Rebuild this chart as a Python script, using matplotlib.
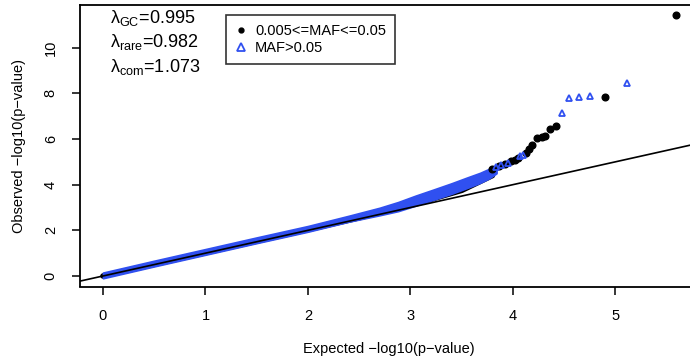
import matplotlib
matplotlib.use("Agg")
import matplotlib.pyplot as plt
from matplotlib.lines import Line2D

plt.rcParams['font.family'] = ['Liberation Sans', 'DejaVu Sans']
plt.rcParams['mathtext.fontset'] = 'custom'
plt.rcParams['mathtext.rm'] = 'Liberation Sans'
plt.rcParams['mathtext.it'] = 'Liberation Sans:italic'

# Dense bulk of the QQ curve: common variants (MAF>0.05), band edges
com_band_x = [0.0, 0.5, 1.0, 1.5, 2.0, 2.4, 2.7, 2.88, 3.05, 3.22, 3.4, 3.55, 3.68, 3.77, 3.84]
com_band_hi = [0.15, 0.67, 1.18, 1.69, 2.19, 2.64, 2.99, 3.24, 3.52, 3.78, 4.06, 4.31, 4.52, 4.70, 4.86]
com_band_lo = [-0.10, 0.42, 0.93, 1.44, 1.94, 2.38, 2.66, 2.84, 3.08, 3.33, 3.60, 3.85, 4.08, 4.28, 4.50]
# Dense bulk: rare variants (0.005<=MAF<=0.05)
rare_band_x = [0.0, 1.0, 2.0, 2.5, 3.0, 3.5, 3.8]
rare_band_y = [0.0, 1.02, 2.03, 2.55, 3.1, 3.75, 4.4]

# Individual tail points
com_tail_x = [3.83, 3.88, 3.95, 4.07, 4.10, 4.48, 4.55, 4.64, 4.75, 5.11]
com_tail_y = [4.78, 4.86, 4.94, 5.25, 5.32, 7.13, 7.79, 7.85, 7.88, 8.45]
rare_tail_x = [3.80, 3.86, 3.92, 3.98, 4.02, 4.05, 4.13, 4.16, 4.19, 4.23, 4.28, 4.31, 4.36, 4.42, 4.90, 5.59]
rare_tail_y = [4.68, 4.80, 4.92, 5.02, 5.10, 5.18, 5.38, 5.57, 5.75, 6.04, 6.10, 6.14, 6.43, 6.55, 7.86, 11.42]

lambda_labels = [r'λ$_{\mathrm{GC}}$=0.995', r'λ$_{\mathrm{rare}}$=0.982', r'λ$_{\mathrm{com}}$=1.073']
legend_labels = ['0.005<=MAF<=0.05', 'MAF>0.05']
xticks = [0, 1, 2, 3, 4, 5]
yticks = [0, 2, 4, 6, 8, 10]

BLUE = '#3050f0'

fig = plt.figure(figsize=(6.9, 3.6), dpi=100)
ax = fig.add_axes([80/690, 1-286.5/360, 618.5/690, (286.5-4.7)/360])
ax.set_xlim(-0.224, 5.81)
ax.set_ylim(-0.46, 11.88)

ax.plot(rare_band_x, rare_band_y, color='black', lw=4.0, solid_capstyle='round', zorder=2)
ax.fill_between(com_band_x, com_band_lo, com_band_hi, color=BLUE, lw=1.2, edgecolor=BLUE, zorder=3)
ax.plot(rare_tail_x, rare_tail_y, linestyle='none', marker='o', markersize=4.8,
        color='black', zorder=3.5)
ax.plot(com_tail_x, com_tail_y, linestyle='none', marker='^', markersize=5, mfc='none',
        mec=BLUE, mew=1.3, zorder=4)
ax.axline((0, 0), slope=1, color='black', lw=1.2, zorder=6)

ax.set_xticks(xticks)
ax.set_yticks(yticks)
ax.set_yticklabels([str(t) for t in yticks], rotation=90, va='center')
ax.tick_params(direction='out', length=6, width=1.1, labelsize=10.5)
ax.tick_params(axis='x', pad=10)
ax.tick_params(axis='y', pad=10)
for s in ax.spines.values():
    s.set_linewidth(1.3)

ax.set_xlabel('Expected \u2212log10(p\u2212value)', fontsize=10.5, labelpad=14)
ax.set_ylabel('Observed \u2212log10(p\u2212value)', fontsize=10.5, labelpad=13)

for i, t in enumerate(lambda_labels):
    fig.text(110/690, 1-(18+24.5*i)/360, t, fontsize=13, va='center', ha='left')

handles = [Line2D([], [], linestyle='none', marker='o', color='black', markersize=3.5),
           Line2D([], [], linestyle='none', marker='^', markersize=5.5, mfc='none', mec=BLUE, mew=1.3)]
leg = ax.legend(handles, legend_labels, loc='upper left', bbox_to_anchor=(226/690, 1-15/360),
                bbox_transform=fig.transFigure, fontsize=10.5, frameon=True, fancybox=False,
                edgecolor='black', handlelength=0.8, handletextpad=0.6, borderpad=0.6,
                labelspacing=0.25, borderaxespad=0)
leg.get_frame().set_linewidth(1.2)

fig.savefig('out.png', dpi=100)
